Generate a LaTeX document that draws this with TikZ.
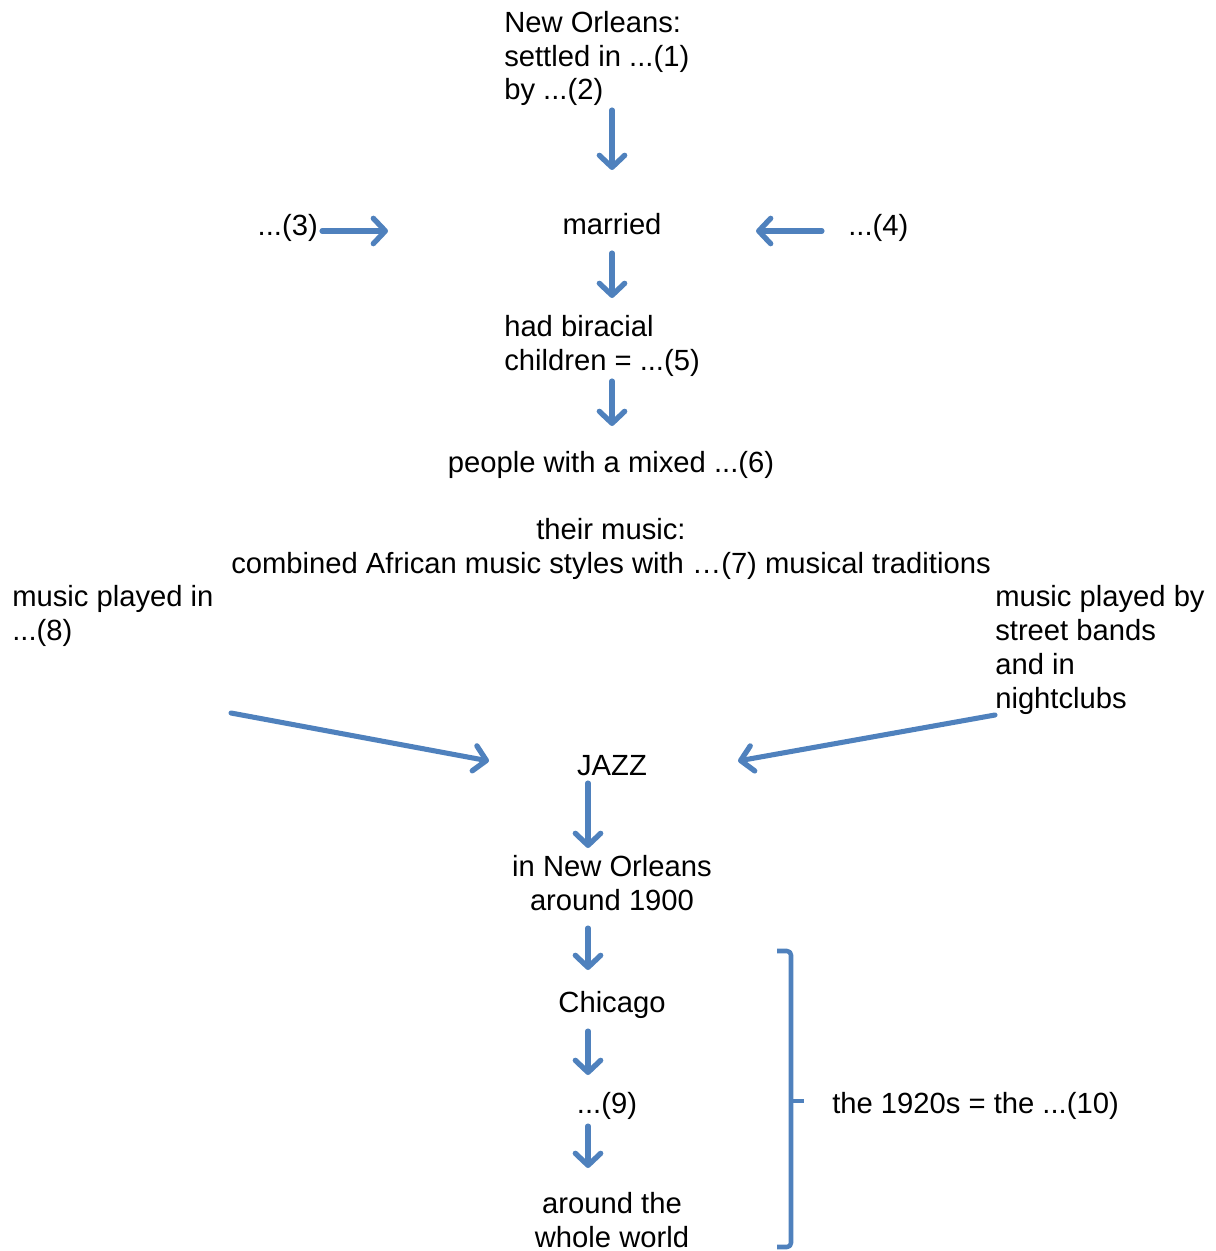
\documentclass[tikz,border=0pt]{standalone}
\usepackage{fontspec}
\setmainfont{Liberation Sans}
\usetikzlibrary{arrows.meta}
\definecolor{arrblue}{HTML}{4F81BD}
\begin{document}
\begin{tikzpicture}[x=0.75pt,y=-0.75pt,
  txt/.style={inner sep=0pt,font=\fontsize{21.9}{25.3}\selectfont,text=black},
  lt/.style={txt,align=left,anchor=base west},
  ct/.style={txt,align=center,anchor=base},
  arr/.style={draw=arrblue,line width=3.8pt,line cap=round,
    -{Straight Barb[length=9pt,width=19pt,line width=4pt,line cap=round,line join=round]}},
  brace/.style={draw=arrblue,line width=3.4pt,line join=round}]
\useasboundingbox (0,0) rectangle (1215,1251);
% texts (base = baseline of last line)
\node[lt] (no) at (504,100) {New Orleans:\\settled in ...(1)\\by ...(2)};
\node[ct] (married) at (612,235) {married};
\node[txt,anchor=base east] (t3) at (318,236) {...(3)};
\node[lt] (t4) at (848,236) {...(4)};
\node[lt] (bir) at (504,370) {had biracial\\children = ...(5)};
\node[ct] (mixed) at (611,472) {people with a mixed ...(6)};
\node[ct] (music) at (611,573) {their music:\\combined African music styles with …(7) musical traditions};
\node[lt] (t8) at (12,640) {music played in\\...(8)};
\node[lt] (street) at (995,708) {music played by\\street bands\\and in\\nightclubs};
\node[ct] (jazz) at (612,775) {JAZZ};
\node[ct] (no1900) at (612,910) {in New Orleans\\around 1900};
\node[ct] (chicago) at (612,1012) {Chicago};
\node[ct] (t9) at (607,1113) {...(9)};
\node[ct] (world) at (612,1247) {around the\\whole world};
\node[lt] (t10) at (832,1113) {the 1920s = the ...(10)};
% arrow end points
\coordinate (a1s) at (612,110); \coordinate (a1e) at (612,170);
\coordinate (a2s) at (322,231); \coordinate (a2e) at (388,231);
\coordinate (a3s) at (822,231); \coordinate (a3e) at (756,231);
\coordinate (a4s) at (612,253); \coordinate (a4e) at (612,298);
\coordinate (a5s) at (612,381); \coordinate (a5e) at (612,426);
\coordinate (a6s) at (231,713); \coordinate (a6e) at (489,761);
\coordinate (a7s) at (995,715); \coordinate (a7e) at (738,761);
\coordinate (a8s) at (588,783); \coordinate (a8e) at (588,848);
\coordinate (a9s) at (588,928); \coordinate (a9e) at (588,970);
\coordinate (a10s) at (588,1031); \coordinate (a10e) at (588,1075);
\coordinate (a11s) at (588,1126); \coordinate (a11e) at (588,1168);
\foreach \i in {1,...,11} \draw[arr] (a\i s) -- (a\i e);
% brace
\coordinate (bt) at (777,951);
\coordinate (bb) at (777,1247);
\coordinate (bm) at (804,1101);
\draw[brace,rounded corners=3pt] (bt) -- (791,951) -- (791,1247) -- (bb);
\draw[brace] (791,1101) -- (bm);
\end{tikzpicture}
\end{document}
